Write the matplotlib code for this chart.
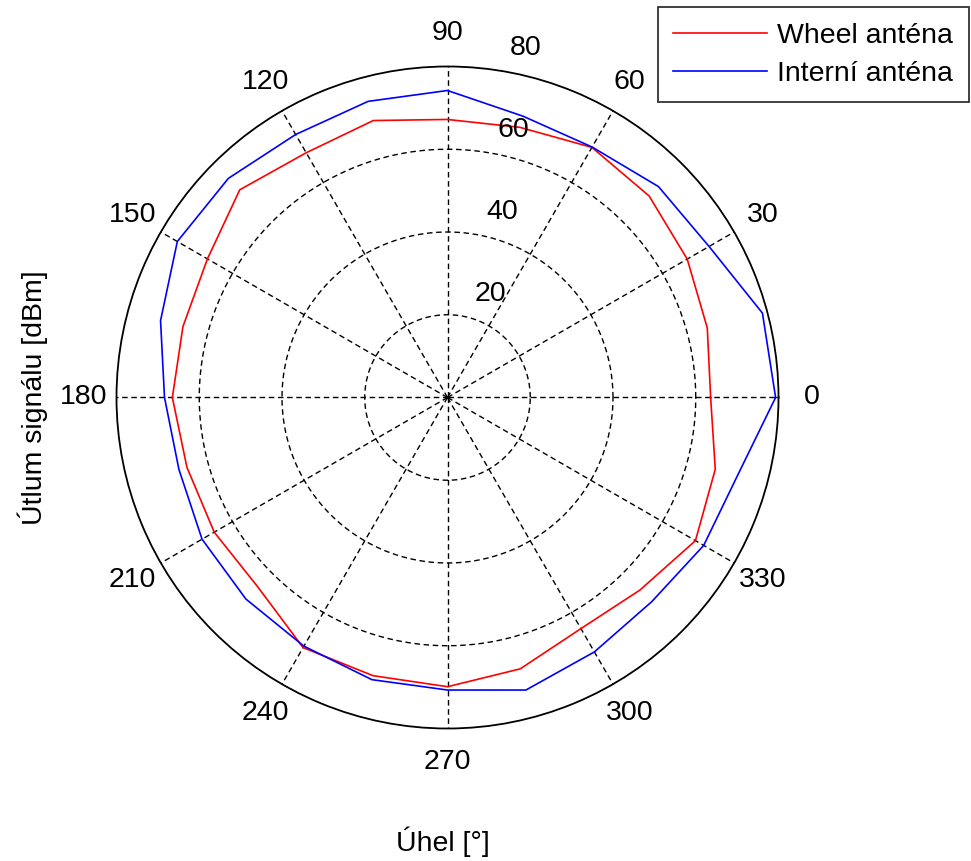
import numpy as np
import matplotlib
matplotlib.use("Agg")
import matplotlib.pyplot as plt

plt.rcParams['font.family'] = ['Liberation Sans', 'DejaVu Sans']

# measured attenuation per direction (every 15 degrees)
angles_deg = [0, 15, 30, 45, 60, 75, 90, 105, 120, 135, 150, 165,
              180, 195, 210, 225, 240, 255, 270, 285, 300, 315, 330, 345]
wheel = [63.6, 65.0, 66.9, 68.9, 69.8, 67.6, 67.2, 69.3, 68.3, 71.0, 67.0, 66.2,
         66.5, 65.2, 65.1, 64.8, 69.8, 69.6, 69.9, 67.9, 64.5, 65.8, 69.2, 67.0]
interni = [79.3, 78.8, 73.0, 72.1, 69.9, 70.4, 74.2, 74.1, 73.4, 74.9, 75.4, 71.8,
           68.4, 67.2, 68.5, 68.9, 69.4, 70.6, 70.7, 73.2, 71.0, 69.8, 71.5, 72.6]

r_rings = [20, 40, 60]
r_max = 80
spoke_angles = [0, 30, 60, 90, 120, 150, 180, 210, 240, 270, 300, 330]

W, H = 971, 861
fig = plt.figure(figsize=(W / 100, H / 100), dpi=100)
cx, cy, rad = 447.5, 397.5, 331
ax = fig.add_axes([(cx - rad) / W, (H - cy - rad) / H, 2 * rad / W, 2 * rad / H],
                  projection='polar')

th = np.deg2rad(np.r_[angles_deg, angles_deg[0]])
w = np.r_[wheel, wheel[0]]
b = np.r_[interni, interni[0]]

dash = (0, (4, 2.6))
ax.grid(False)
ax.set_xticks([])
ax.set_yticks([])
ax.set_ylim(0, r_max)
ax.spines['polar'].set_linewidth(1.3)

# dotted rings and spokes
tt = np.linspace(0, 2 * np.pi, 361)
for r in r_rings:
    ax.plot(tt, np.full_like(tt, r), color='black', lw=1.0, ls=dash)
for a in spoke_angles:
    ax.plot([np.deg2rad(a)] * 2, [0, r_max], color='black', lw=1.0, ls=dash)

l1, = ax.plot(th, w, color='#ff0000', lw=1.2, label='Wheel anténa')
l2, = ax.plot(th, b, color='#0000ff', lw=1.2, label='Interní anténa')

fs = 20.5
for a in spoke_angles:
    ax.text(np.deg2rad(a), r_max * 1.1, str(a), ha='center', va='center',
            fontsize=fs, clip_on=False)
for r in r_rings + [r_max]:
    ax.annotate(str(r), xy=(np.deg2rad(82), r + 1), xytext=(11, 3),
                textcoords='offset points', ha='left', va='bottom',
                fontsize=fs, annotation_clip=False)

fig.text(33 / W, 1 - 398 / H, 'Útlum signálu [dBm]', rotation=90,
         ha='center', va='center', fontsize=fs)
fig.text(443 / W, 1 - 842 / H, 'Úhel [°]', ha='center', va='center', fontsize=fs)

leg = fig.legend(handles=[l1, l2], loc='upper right',
                 bbox_to_anchor=(969 / W, 1 - 7 / H), fontsize=fs,
                 frameon=True, fancybox=False, edgecolor='black',
                 borderpad=0.55, handlelength=3.3, handletextpad=0.36,
                 labelspacing=0.42, borderaxespad=0)
leg.get_frame().set_linewidth(1.3)

fig.savefig('out.png', dpi=100)
